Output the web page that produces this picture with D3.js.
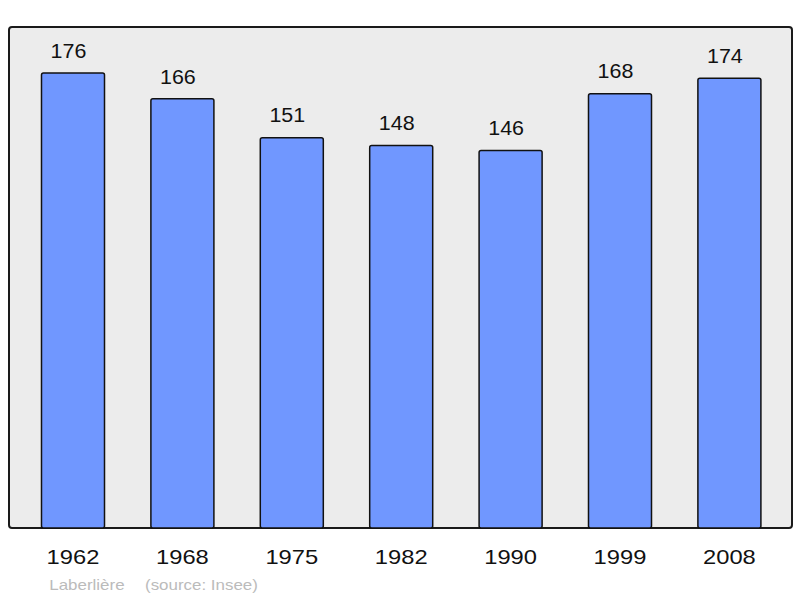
<!DOCTYPE html>
<html>
<head>
<meta charset="utf-8">
<script src="https://cdn.jsdelivr.net/npm/d3@7"></script>
<style>
  body { margin: 0; background: #fff; }
  text { font-family: "Liberation Sans", Arial, sans-serif; }
</style>
</head>
<body>
<div id="chart"></div>
<script>
// data
var years = ["1962", "1968", "1975", "1982", "1990", "1999", "2008"];
var population = [176, 166, 151, 148, 146, 168, 174];
var credits = ["Laberlière", "(source: Insee)"];

var svgWidth = 800;
var svgHeight = 598;

// the original font runs a bit wider than Liberation Sans
var stretch = 1.1;

var svg = d3.select("#chart")
  .append("svg")
  .attr("width", svgWidth)
  .attr("height", svgHeight);

// grey panel behind the bars
var panel = { left: 9, top: 27, right: 792, bottom: 528 };

svg.append("rect")
  .attr("x", panel.left)
  .attr("y", panel.top)
  .attr("width", panel.right - panel.left)
  .attr("height", panel.bottom - panel.top)
  .attr("rx", 3)
  .attr("fill", "#ececec")
  .attr("stroke", "#1a1a1a")
  .attr("stroke-width", 2);

// scales
var xScale = d3.scaleBand()
  .domain(years)
  .range([18.3, 18.3 + 7 * 109.4])
  .paddingInner(0.424)
  .paddingOuter(0.212);

var yScale = d3.scaleLinear()
  .domain([0, 176])
  .range([panel.bottom, 73]);

// bars
svg.selectAll("rect.bar")
  .data(population)
  .enter()
  .append("rect")
  .classed("bar", true)
  .attr("x", (d, i) => xScale(years[i]))
  .attr("y", d => yScale(d))
  .attr("width", xScale.bandwidth())
  .attr("height", d => panel.bottom - yScale(d))
  .attr("rx", 2)
  .attr("fill", "#7097ff")
  .attr("stroke", "#111")
  .attr("stroke-width", 1.5);

// value labels above bars (sit a bit left of centre in the original)
svg.selectAll("text.value")
  .data(population)
  .enter()
  .append("text")
  .classed("value", true)
  .attr("transform", (d, i) =>
    `translate(${xScale(years[i]) + xScale.bandwidth() / 2 - 4.5}, ${yScale(d) - 15.3}) scale(${stretch}, 1)`)
  .attr("text-anchor", "middle")
  .attr("font-size", 19.5)
  .attr("fill", "#111")
  .text(d => d);

// x axis, year labels only
var bottomAxis = d3.axisBottom(xScale).tickSize(0).tickPadding(0);

var xAxis = svg.append("g")
  .attr("transform", `translate(0, ${panel.bottom})`)
  .call(bottomAxis);

xAxis.select(".domain").remove();
xAxis.selectAll("text")
  .attr("dy", null)
  .attr("y", null)
  .attr("transform", `translate(0, 36.3) scale(${stretch + 0.03}, 1)`)
  .attr("font-size", 21)
  .attr("font-family", "Liberation Sans, Arial, sans-serif")
  .attr("fill", "#111");

// credit line
var creditX = [49.3, 145];
svg.selectAll("text.credit")
  .data(credits)
  .enter()
  .append("text")
  .classed("credit", true)
  .attr("transform", (d, i) => `translate(${creditX[i]}, 590) scale(${stretch}, 1)`)
  .attr("font-size", 15.4)
  .attr("fill", "#bbbbbb")
  .text(d => d);
</script>
</body>
</html>
